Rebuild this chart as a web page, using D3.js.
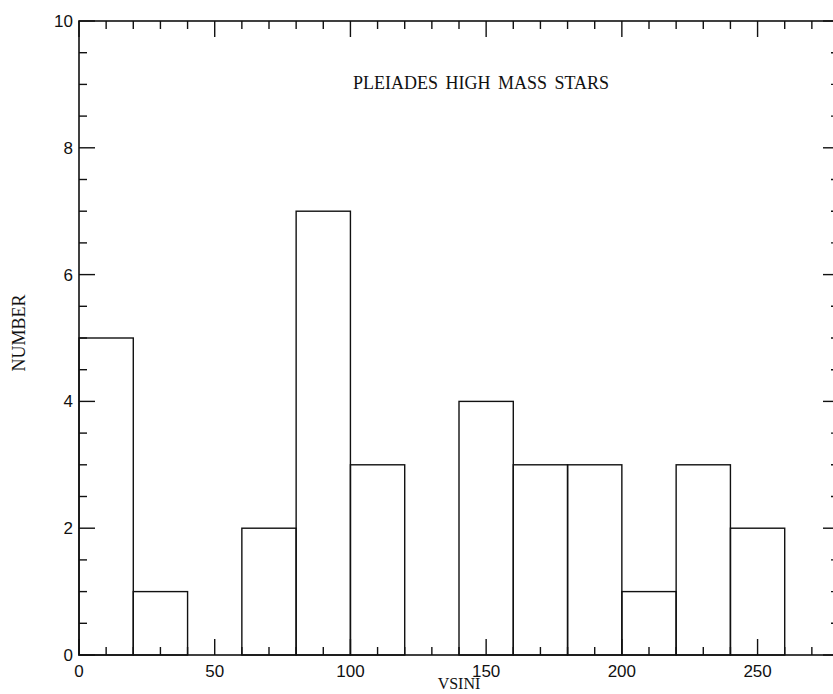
<!DOCTYPE html>
<html>
<head>
<meta charset="utf-8">
<script src="https://cdn.jsdelivr.net/npm/d3@7"></script>
<style>
  body { margin: 0; background: #fff; }
  svg { display: block; }
  .tick-label { font-family: "Liberation Sans", Arial, sans-serif; font-size: 17px; fill: #111; }
  .serif { font-family: "Liberation Serif", "Times New Roman", serif; fill: #111; }
</style>
</head>
<body>
<svg id="chart" width="833" height="694"></svg>
<script>
// histogram data: bin start (km/s), bin width 20
const binStarts = [0, 20, 40, 60, 80, 100, 120, 140, 160, 180, 200, 220, 240];
const counts    = [5, 1, 0, 2, 7, 3, 0, 4, 3, 3, 1, 3, 2];
const binWidth = 20;
const xTicks = [0, 50, 100, 150, 200, 250];
const yTicks = [0, 2, 4, 6, 8, 10];

const svg = d3.select("#chart");
const plotLeft = 79, plotRight = 839, plotTop = 21, plotBottom = 655;

const x = d3.scaleLinear().domain([0, 280]).range([plotLeft, plotRight]);
const y = d3.scaleLinear().domain([0, 10]).range([plotBottom, plotTop]);

const ink = "#111";

// bars
svg.append("g").selectAll("rect")
  .data(binStarts.map((b, i) => ({ b, n: counts[i] })).filter(d => d.n > 0))
  .join("rect")
  .attr("x", d => x(d.b))
  .attr("y", d => y(d.n))
  .attr("width", d => x(d.b + binWidth) - x(d.b))
  .attr("height", d => y(0) - y(d.n))
  .attr("fill", "none")
  .attr("stroke", ink)
  .attr("stroke-width", 1.4);

// frame ticks (drawn inward on all four sides)
const xMinor = d3.range(0, 281, 10);
const yMinor = d3.range(0, 10.01, 0.5);
const major = 16, minor = 8;
const tk = svg.append("g").attr("stroke", ink).attr("stroke-width", 1.4);

xMinor.forEach(v => {
  const len = v % 50 === 0 ? major : minor;
  tk.append("line").attr("x1", x(v)).attr("x2", x(v)).attr("y1", plotBottom).attr("y2", plotBottom - len);
  tk.append("line").attr("x1", x(v)).attr("x2", x(v)).attr("y1", plotTop).attr("y2", plotTop + len);
});
yMinor.forEach(v => {
  const len = Math.abs(v % 2) < 1e-6 ? major : minor;
  tk.append("line").attr("y1", y(v)).attr("y2", y(v)).attr("x1", plotLeft).attr("x2", plotLeft + len);
  tk.append("line").attr("y1", y(v)).attr("y2", y(v)).attr("x1", plotRight).attr("x2", plotRight - len);
});

// frame
svg.append("rect")
  .attr("x", plotLeft).attr("y", plotTop)
  .attr("width", plotRight - plotLeft).attr("height", plotBottom - plotTop)
  .attr("fill", "none").attr("stroke", ink).attr("stroke-width", 1.6);

// tick labels
svg.append("g").selectAll("text")
  .data(xTicks).join("text")
  .attr("class", "tick-label")
  .attr("x", d => x(d)).attr("y", plotBottom + 22)
  .attr("text-anchor", "middle")
  .text(d => d);

svg.append("g").selectAll("text")
  .data(yTicks).join("text")
  .attr("class", "tick-label")
  .attr("x", plotLeft - 6).attr("y", d => y(d) + 6)
  .attr("text-anchor", "end")
  .text(d => d);

// titles
svg.append("text").attr("class", "serif")
  .attr("x", 353).attr("y", 89)
  .style("font-size", "18px")
  .style("word-spacing", "3px")
  .text("PLEIADES HIGH MASS STARS");

svg.append("text").attr("class", "serif")
  .attr("x", (plotLeft + plotRight) / 2).attr("y", 689)
  .attr("text-anchor", "middle")
  .style("font-size", "16px")
  .text("VSINI");

svg.append("text").attr("class", "serif")
  .attr("transform", `translate(25,333) rotate(-90)`)
  .attr("text-anchor", "middle")
  .style("font-size", "18px")
  .text("NUMBER");
</script>
</body>
</html>
